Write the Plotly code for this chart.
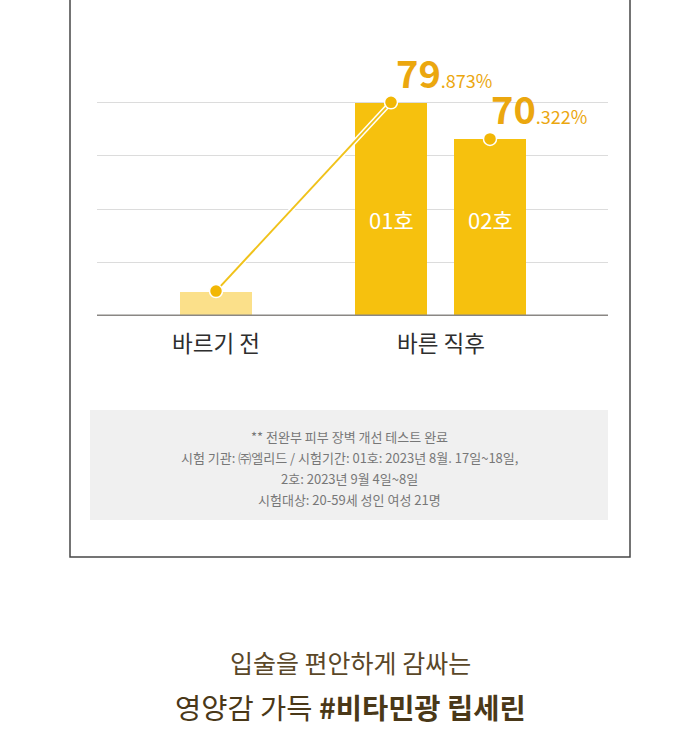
import plotly.graph_objects as go

# ---- data ----
bar_names = ["바르기 전", "01호", "02호"]
bar_heights = [9.3, 79.873, 66.2]          # heights as drawn in the picture
value_main = ["79", "70"]
value_frac = [".873%", ".322%"]
group_labels = ["바르기 전", "바른 직후"]
grid_ticks = [20, 40, 60, 80]
note_lines = [
    "** 전완부 피부 장벽 개선 테스트 완료",
    "시험 기관: ㈜엘리드 / 시험기간: 01호: 2023년 8월. 17일~18일,",
    "2호: 2023년 9월 4일~8일",
    "시험대상: 20-59세 성인 여성 21명",
]
title_line1 = "입술을 편안하게 감싸는"
title_line2a = "영양감 가득 "
title_line2b = "#비타민광 립세린"

# ---- layout constants ----
W, H = 700, 750
FONT = "Noto Sans CJK KR"
bar_x = [216, 391, 490]        # pixel-space x positions of bars
bar_w = 72
bar_colors = ["#fbe08a", "#f6c10e", "#f6c10e"]
label_dx = [3, -1]
plot_left, plot_right = 97, 608
base_px, top_px = 316, 316 - 100 * 2.675

def px(x):
    return x / W

def py(y):
    return 1 - y / H

fig = go.Figure()
fig.add_trace(go.Bar(
    x=bar_x, y=bar_heights, width=bar_w, marker=dict(color=bar_colors, line=dict(width=0)),
    hoverinfo="skip", showlegend=False,
))
# connecting line (white edge + yellow core)
fig.add_trace(go.Scatter(x=bar_x[:2], y=bar_heights[:2], mode="lines",
                         line=dict(color="white", width=5), hoverinfo="skip", showlegend=False))
fig.add_trace(go.Scatter(x=bar_x[:2], y=bar_heights[:2], mode="lines",
                         line=dict(color="#f0c21a", width=2), hoverinfo="skip", showlegend=False))
fig.add_trace(go.Scatter(x=bar_x, y=bar_heights, mode="markers",
                         marker=dict(size=13, color="#f2b705", line=dict(color="white", width=1.5)),
                         hoverinfo="skip", showlegend=False, cliponaxis=False))

fig.update_layout(
    width=W, height=H, margin=dict(l=0, r=0, t=0, b=0),
    paper_bgcolor="white", plot_bgcolor="white",
    xaxis=dict(domain=[px(plot_left), px(plot_right)], range=[plot_left, plot_right],
               showgrid=False, zeroline=False, showticklabels=False, fixedrange=True),
    yaxis=dict(domain=[py(base_px), py(top_px)], range=[0, 100], tickvals=grid_ticks,
               showgrid=True, gridcolor="#dcdcdc", gridwidth=1, zeroline=False,
               showticklabels=False, fixedrange=True),
    bargap=0,
)

shapes = []
# outer frame
shapes.append(dict(type="rect", xref="paper", yref="paper", x0=px(70), x1=px(630),
                   y0=py(557), y1=py(-5), line=dict(color="#474747", width=1.5),
                   fillcolor="rgba(0,0,0,0)", layer="below"))
# baseline
shapes.append(dict(type="line", xref="paper", yref="y", x0=px(plot_left), x1=px(plot_right),
                   y0=0, y1=0, line=dict(color="#8a8784", width=3)))
# note box
shapes.append(dict(type="rect", xref="paper", yref="paper", x0=px(90), x1=px(608),
                   y0=py(520), y1=py(410), line=dict(width=0), fillcolor="#f0f0f0", layer="below"))
fig.update_layout(shapes=shapes)

ann = []
def add(text, x, y, size, color, xref="paper", yref="paper", **kw):
    d = dict(text=text, x=x, y=y, xref=xref, yref=yref, showarrow=False,
             xanchor="center", yanchor="middle", font=dict(family=FONT, size=size, color=color))
    d.update(kw)
    ann.append(d)

# names inside bars
for i in (1, 2):
    add(bar_names[i], bar_x[i], py(219), 22, "white", xref="x")
# value labels
for i, (m, f) in enumerate(zip(value_main, value_frac)):
    add(f"<span style='font-weight:bold;font-size:38px'>{m}</span>{f}",
        bar_x[i + 1] + label_dx[i], bar_heights[i + 1], 18, "#eba70f",
        xref="x", yref="y", xanchor="left", yshift=31)
# group labels
add(group_labels[0], bar_x[0], py(342), 22.5, "#2e2e2e", xref="x")
add(group_labels[1], (bar_x[1] + bar_x[2]) / 2, py(342), 22.5, "#2e2e2e", xref="x")
# note lines
for j, line in enumerate(note_lines):
    add(line, px(349), py(436 + j * 21.3), 13, "#777777")
# bottom titles
add(title_line1, 0.5, py(662), 25, "#5a4728")
add(f"{title_line2a}<b>{title_line2b}</b>", 0.5, py(706), 28.5, "#4a3818")
fig.update_layout(annotations=ann)

fig.write_html("out.html", config={"displayModeBar": False},
               post_script="document.body.style.margin='0';")
